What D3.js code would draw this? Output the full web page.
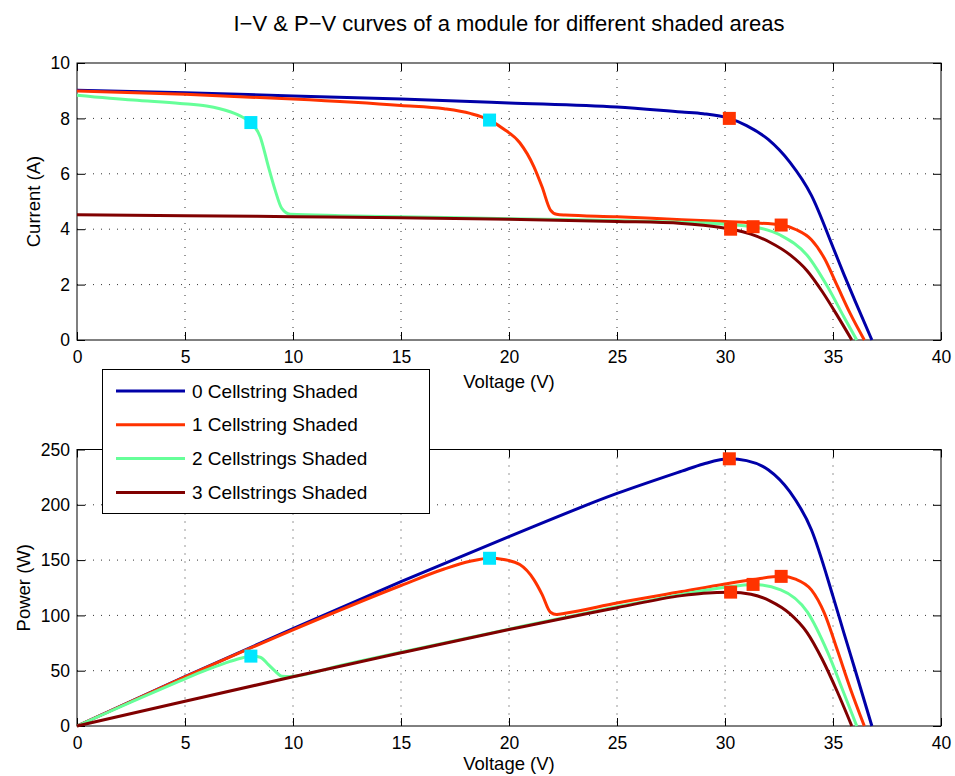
<!DOCTYPE html>
<html>
<head>
<meta charset="utf-8">
<script src="https://cdn.jsdelivr.net/npm/d3@7"></script>
<style>
  body { margin: 0; background: #fff; }
  svg text { font-family: "Liberation Sans", Arial, Helvetica, sans-serif; fill: #000; }
</style>
</head>
<body>
<svg id="chart" width="955" height="776"></svg>
<script>
// legend names and line colours
const seriesNames = ['0 Cellstring Shaded', '1 Cellstring Shaded', '2 Cellstrings Shaded', '3 Cellstrings Shaded'];
const seriesColors = ['#0000a8', '#ff3300', '#66ff99', '#800000'];

// 0 cellstring shaded
const volt0 = [0, 5, 10, 15, 20, 25, 28, 29, 30.2, 31, 32, 33, 34, 35, 35.5, 36, 36.8];
const curr0 = [9.02, 8.93, 8.81, 8.7, 8.56, 8.41, 8.23, 8.17, 8.0, 7.74, 7.24, 6.42, 5.22, 3.35, 2.38, 1.45, 0];
const pow0 = [0, 44.65, 88.1, 130.5, 171.2, 210.25, 230.44, 236.93, 241.6, 239.94, 231.68, 211.86, 177.48, 117.25, 84.49, 52.2, 0];

// 1 cellstring shaded
const volt1 = [0, 5, 10, 15, 17, 18.2, 19.1, 19.75, 20.5, 21.15, 21.53, 21.92, 22.2, 22.6, 25, 28, 30, 31.3, 32.6, 33.3, 34.0, 34.6, 35.2, 35.8, 36.45];
const curr1 = [8.99, 8.87, 8.7, 8.47, 8.35, 8.18, 7.94, 7.62, 7.12, 6.26, 5.53, 4.69, 4.54, 4.51, 4.45, 4.34, 4.28, 4.23, 4.15, 3.98, 3.62, 2.95, 1.95, 0.95, 0];
const pow1 = [0, 44.35, 87.0, 127.05, 141.95, 148.88, 151.65, 150.5, 145.96, 132.4, 119.06, 102.8, 100.79, 101.93, 111.25, 121.52, 128.4, 132.4, 135.29, 132.53, 123.08, 102.07, 68.64, 34.01, 0];

// 2 cellstrings shaded
const volt2 = [0, 2.6, 4.77, 6, 7.09, 7.63, 8.05, 8.48, 8.86, 9.17, 9.48, 9.87, 12.2, 15, 20, 25, 28, 30, 31.3, 32.58, 33.81, 34.75, 35.5, 36.1];
const curr2 = [8.84, 8.66, 8.54, 8.45, 8.24, 8.06, 7.85, 7.34, 6.26, 5.42, 4.75, 4.54, 4.49, 4.45, 4.38, 4.31, 4.25, 4.18, 4.09, 3.78, 3.05, 1.92, 0.84, 0];
const pow2 = [0, 22.52, 40.74, 50.7, 58.42, 61.5, 63.19, 62.24, 55.46, 49.7, 45.03, 44.81, 54.78, 66.75, 87.6, 107.75, 119.0, 125.4, 128.02, 123.15, 103.12, 66.72, 29.82, 0];

// 3 cellstrings shaded
const volt3 = [0, 5, 10, 15, 20, 25, 28, 29, 30.26, 31.2, 32.1, 33, 33.8, 34.5, 35.2, 35.87];
const curr3 = [4.52, 4.49, 4.45, 4.41, 4.36, 4.28, 4.21, 4.14, 4.0, 3.82, 3.52, 3.08, 2.5, 1.75, 0.88, 0];
const pow3 = [0, 22.45, 44.5, 66.15, 87.2, 107.0, 117.88, 120.06, 121.04, 119.18, 112.99, 101.64, 84.5, 60.38, 30.98, 0];

// local maxima (cyan) and global maxima (red)
const localMaxV = [8.05, 19.1];
const localMaxI = [7.85, 7.94];
const localMaxP = [63.19, 151.65];
const mppV = [30.2, 32.6, 31.3, 30.26];
const mppI = [8.0, 4.15, 4.09, 4.0];
const mppP = [241.6, 135.29, 128.02, 121.04];

const voltTicks = [0, 5, 10, 15, 20, 25, 30, 35, 40];
const currTicks = [0, 2, 4, 6, 8, 10];
const powTicks = [0, 50, 100, 150, 200, 250];

const svg = d3.select('#chart');
const left = 77, right = 941;

var x = d3.scaleLinear().domain([0, 40]).range([left, right]);

svg.append('text')
  .attr('x', (left + right) / 2)
  .attr('y', 31)
  .attr('text-anchor', 'middle')
  .style('font-size', '22px')
  .text('I\u2212V & P\u2212V curves of a module for different shaded areas');

function drawPanel(top, bottom, yMax, yTicks, yLabel, yLabelX, xLabelY, volts, vals, locY, mppY) {
  var y = d3.scaleLinear().domain([0, yMax]).range([bottom, top]);
  var g = svg.append('g');

  // dotted grid
  g.selectAll('.vgrid').data(voltTicks.slice(1, -1)).enter().append('line')
    .attr('x1', d => x(d)).attr('x2', d => x(d))
    .attr('y1', top).attr('y2', bottom)
    .attr('stroke', '#333').attr('stroke-dasharray', '1,7');
  g.selectAll('.hgrid').data(yTicks.slice(1, -1)).enter().append('line')
    .attr('x1', left).attr('x2', right)
    .attr('y1', d => y(d)).attr('y2', d => y(d))
    .attr('stroke', '#333').attr('stroke-dasharray', '1,7');

  // axes with inward ticks
  g.append('g').attr('transform', `translate(0,${bottom})`)
    .call(d3.axisBottom(x).tickValues(voltTicks).tickSize(-8).tickSizeOuter(0).tickPadding(11));
  g.append('g').attr('transform', `translate(${left},0)`)
    .call(d3.axisLeft(y).tickValues(yTicks).tickSize(-8).tickSizeOuter(0).tickPadding(7));
  g.append('g').attr('transform', `translate(0,${top})`)
    .call(d3.axisTop(x).tickValues(voltTicks).tickSize(-8).tickSizeOuter(0).tickFormat(''));
  g.append('g').attr('transform', `translate(${right},0)`)
    .call(d3.axisRight(y).tickValues(yTicks).tickSize(-8).tickSizeOuter(0).tickFormat(''));
  g.selectAll('.domain').remove();
  g.selectAll('.tick line').attr('stroke', '#000');
  g.selectAll('.tick text').style('font-size', '17.5px').attr('fill', '#000');
  g.selectAll('g').attr('font-family', null).attr('font-size', null);

  g.append('rect')
    .attr('x', left).attr('y', top)
    .attr('width', right - left).attr('height', bottom - top)
    .attr('fill', 'none').attr('stroke', '#000');

  // curves
  var line = d3.line()
    .x(d => x(d[0]))
    .y(d => y(d[1]))
    .curve(d3.curveMonotoneX);
  vals.forEach(function(v, k) {
    g.append('path')
      .datum(d3.zip(volts[k], v))
      .attr('d', line)
      .attr('fill', 'none')
      .attr('stroke', seriesColors[k])
      .attr('stroke-width', 3);
  });

  // markers
  var s = 13;
  g.selectAll('.loc').data(d3.zip(localMaxV, locY)).enter().append('rect')
    .attr('x', d => x(d[0]) - s / 2).attr('y', d => y(d[1]) - s / 2)
    .attr('width', s).attr('height', s)
    .attr('fill', '#00e6ff');
  g.selectAll('.mpp').data(d3.zip(mppV, mppY)).enter().append('rect')
    .attr('x', d => x(d[0]) - s / 2).attr('y', d => y(d[1]) - s / 2)
    .attr('width', s).attr('height', s)
    .attr('fill', '#ff3300');

  // axis titles
  g.append('text')
    .attr('x', (left + right) / 2).attr('y', xLabelY)
    .attr('text-anchor', 'middle')
    .style('font-size', '18.5px')
    .text('Voltage (V)');
  g.append('text')
    .attr('transform', `translate(${yLabelX},${(top + bottom) / 2}) rotate(-90)`)
    .attr('text-anchor', 'middle')
    .style('font-size', '18.5px')
    .text(yLabel);
}

drawPanel(63, 340, 10, currTicks, 'Current (A)', 40, 388, [volt0, volt1, volt2, volt3], [curr0, curr1, curr2, curr3], localMaxI, mppI);
drawPanel(449.5, 726, 250, powTicks, 'Power (W)', 30, 770, [volt0, volt1, volt2, volt3], [pow0, pow1, pow2, pow3], localMaxP, mppP);

// legend box over the lower panel
var lg = svg.append('g');
lg.append('rect')
  .attr('x', 102.5).attr('y', 369.5)
  .attr('width', 327).attr('height', 144)
  .attr('fill', '#fff').attr('stroke', '#000');
seriesNames.forEach(function(name, k) {
  var ly = 391 + k * 33.8;
  lg.append('line')
    .attr('x1', 116).attr('x2', 185)
    .attr('y1', ly).attr('y2', ly)
    .attr('stroke', seriesColors[k]).attr('stroke-width', 3);
  lg.append('text')
    .attr('x', 192).attr('y', ly + 6.5)
    .style('font-size', '19px')
    .text(name);
});
</script>
</body>
</html>
